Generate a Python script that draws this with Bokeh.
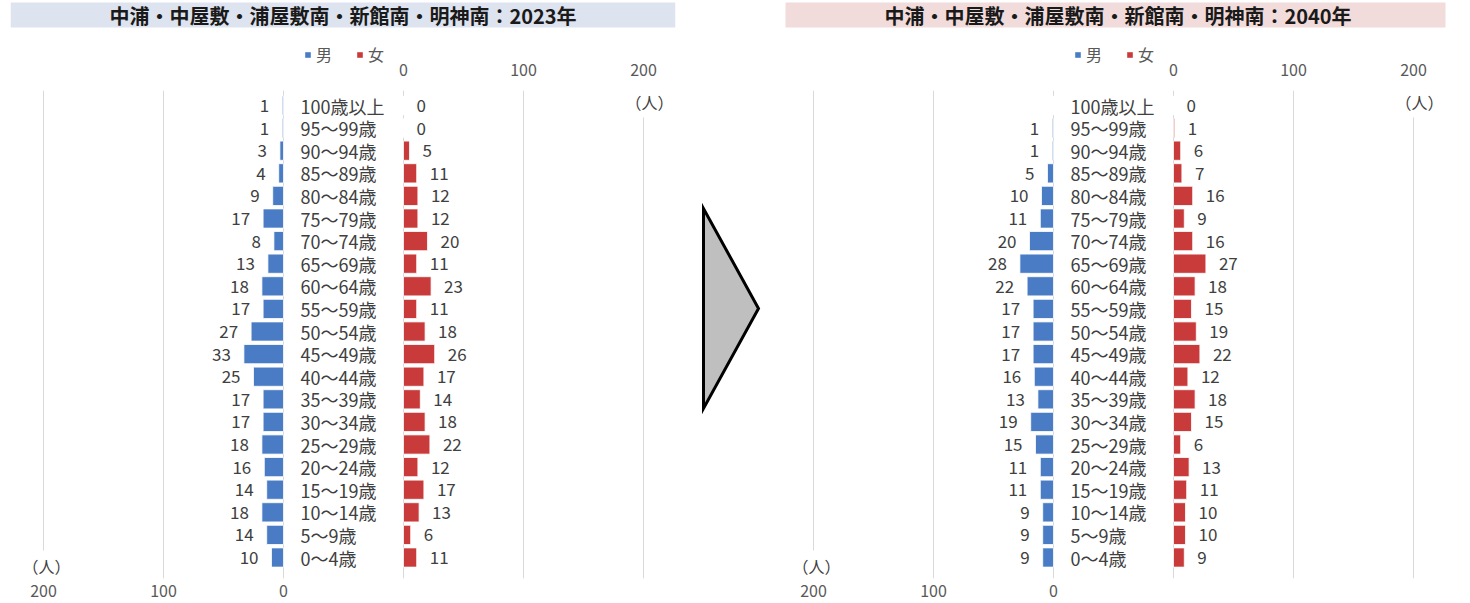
from bokeh.plotting import figure
from bokeh.models import (ColumnDataSource, Range1d, LinearAxis, FixedTicker,
                          Grid, Legend, LegendItem)
from bokeh.layouts import row, column
from bokeh.core.properties import value
from bokeh.embed import file_html
from bokeh.resources import INLINE

# ---------------- data ----------------
age_groups = ["100歳以上", "95～99歳", "90～94歳", "85～89歳", "80～84歳", "75～79歳",
              "70～74歳", "65～69歳", "60～64歳", "55～59歳", "50～54歳", "45～49歳",
              "40～44歳", "35～39歳", "30～34歳", "25～29歳", "20～24歳", "15～19歳",
              "10～14歳", "5～9歳", "0～4歳"]

male_2023 = [1, 1, 3, 4, 9, 17, 8, 13, 18, 17, 27, 33, 25, 17, 17, 18, 16, 14, 18, 14, 10]
female_2023 = [0, 0, 5, 11, 12, 12, 20, 11, 23, 11, 18, 26, 17, 14, 18, 22, 12, 17, 13, 6, 11]

male_2040 = [None, 1, 1, 5, 10, 11, 20, 28, 22, 17, 17, 17, 16, 13, 19, 15, 11, 11, 9, 9, 9]
female_2040 = [0, 1, 6, 7, 16, 9, 16, 27, 18, 15, 19, 22, 12, 18, 15, 6, 13, 11, 10, 10, 9]

axis_ticks = [0, 100, 200]
title_2023 = "中浦・中屋敷・浦屋敷南・新館南・明神南：2023年"
title_2040 = "中浦・中屋敷・浦屋敷南・新館南・明神南：2040年"
legend_labels = ["男", "女"]
unit_label = "（人）"

# ---------------- style ----------------
FONT = value("Noto Sans CJK JP")
BLUE = "#4a7cc6"
RED = "#c93b3b"
GRID = "#d9d9d9"
TXT = "#404040"
TICK = "#595959"

# horizontal geometry shared by header and pyramid: frame 10..675 px,
# female 0 at 403 px, male 0 at 283 px, 1.2 px per person
F_RANGE = (-327.5, 226.67)
M_RANGE = (227.5, -326.67)


def style_axis(ax, standoff):
    ax.axis_line_color = None
    ax.major_tick_line_color = None
    ax.minor_tick_line_color = None
    ax.major_label_standoff = standoff
    ax.major_label_text_font = "Noto Sans CJK JP"
    ax.major_label_text_font_size = "16px"
    ax.major_label_text_color = TICK


def header(text, band, band_shift):
    # title band, legend and the female (top) axis
    p = figure(width=700, height=84, x_range=Range1d(*F_RANGE), y_range=Range1d(66, 0),
               x_axis_location=None, y_axis_location=None, toolbar_location=None,
               output_backend="svg", min_border_left=10, min_border_right=25,
               min_border_top=0, min_border_bottom=18, outline_line_color=None)
    p.grid.visible = False
    x0, x1 = F_RANGE
    sh = band_shift / 1.2
    p.quad(left=[x0 + sh], right=[x1 + sh], top=[2], bottom=[27], fill_color=band,
           line_color=None)
    p.text(x=[(x0 + x1) / 2 + sh], y=[15], text=[text], text_align="center",
           text_baseline="middle", text_font=FONT, text_font_size="20px",
           text_font_style="bold", text_color="#1a1a1a")
    # zero-width swatch renderers that only feed the legend
    swatch = ColumnDataSource(dict(y=[0], r=[0]))
    rm = p.hbar(y="y", right="r", left=0, height=1, source=swatch, fill_color=BLUE,
                line_color=None)
    rf = p.hbar(y="y", right="r", left=0, height=1, source=swatch, fill_color=RED,
                line_color=None)
    leg = Legend(items=[LegendItem(label=legend_labels[0], renderers=[rm]),
                        LegendItem(label=legend_labels[1], renderers=[rf])],
                 location=(294, 0), orientation="horizontal", glyph_width=7, glyph_height=7,
                 label_standoff=5, spacing=20, padding=1, margin=0, label_height=16,
                 label_text_font="Noto Sans CJK JP", label_text_font_size="16px",
                 label_text_color=TICK, background_fill_alpha=0, border_line_color=None)
    p.add_layout(leg)
    top = LinearAxis(ticker=FixedTicker(ticks=axis_ticks))
    style_axis(top, -9)
    p.add_layout(top, "below")
    return p


def pyramid(male, female):
    n = len(age_groups)
    ypos = [n - 1 - i for i in range(n)]          # row position: oldest at the top
    male_vals = [v if v is not None else 0 for v in male]
    male_txt = ["" if v is None else str(v) for v in male]
    src = ColumnDataSource(dict(age=age_groups, y=ypos, m=male_vals, f=female,
                                mt=male_txt, ft=[str(v) for v in female]))
    p = figure(width=700, height=519,
               x_range=Range1d(*F_RANGE),
               y_range=Range1d(-0.929, n - 1 + 0.664),
               x_axis_location=None, y_axis_location=None, toolbar_location=None,
               output_backend="svg", min_border_left=10, min_border_right=25,
               min_border_top=6, min_border_bottom=25, outline_line_color=None)
    p.extra_x_ranges = {"male": Range1d(*M_RANGE)}

    p.xgrid.ticker = FixedTicker(ticks=axis_ticks)
    p.xgrid.grid_line_color = GRID
    p.ygrid.visible = False
    p.add_layout(Grid(dimension=0, ticker=FixedTicker(ticks=axis_ticks), x_range_name="male",
                      grid_line_color=GRID))

    bot = LinearAxis(ticker=FixedTicker(ticks=axis_ticks), x_range_name="male")
    style_axis(bot, 0)
    p.add_layout(bot, "below")

    p.hbar(y="y", left=0, right="m", height=0.85, source=src, x_range_name="male",
           fill_color=BLUE, line_color="white", line_width=0.8)
    p.hbar(y="y", left=0, right="f", height=0.85, source=src,
           fill_color=RED, line_color="white", line_width=0.8)

    p.text(x="m", y="y", text="mt", source=src, x_range_name="male", x_offset=-13,
           text_align="right", text_baseline="middle", text_font=FONT,
           text_font_size="17px", text_color=TXT)
    p.text(x="f", y="y", text="ft", source=src, x_offset=13,
           text_align="left", text_baseline="middle", text_font=FONT,
           text_font_size="17px", text_color=TXT)
    p.text(x=0, y="y", text="age", source=src, x_range_name="male", x_offset=17,
           text_align="left", text_baseline="middle", text_font=FONT,
           text_font_size="18px", text_color=TXT)

    # unit labels
    p.text(x=[axis_ticks[-1]], y=[ypos[0]], text=[unit_label], x_offset=6, y_offset=-4,
           text_align="center", text_baseline="middle", text_font=FONT, text_font_size="16px",
           text_color=TXT, background_fill_color="white", padding=4)
    p.text(x=[axis_ticks[-1]], y=[ypos[-1]], text=[unit_label], x_range_name="male",
           x_offset=3, y_offset=8, text_align="center", text_baseline="middle", text_font=FONT,
           text_font_size="16px", text_color=TXT, background_fill_color="white", padding=3)
    return p


def arrow_fig():
    p = figure(width=70, height=603, x_range=Range1d(0, 70), y_range=Range1d(603, 0),
               x_axis_location=None, y_axis_location=None, toolbar_location=None,
               output_backend="svg", min_border=0, outline_line_color=None)
    p.grid.visible = False
    p.patch(x=[3, 3, 58], y=[208, 408, 308], fill_color="#bfbfbf", line_color="black",
            line_width=3, line_join="miter")
    return p


left = column(header(title_2023, "#dde3ef", 0), pyramid(male_2023, female_2023))
right = column(header(title_2040, "#f2dcdb", 5), pyramid(male_2040, female_2040))
layout = row(left, arrow_fig(), right)

open("out.html", "w").write(file_html(layout, INLINE))
